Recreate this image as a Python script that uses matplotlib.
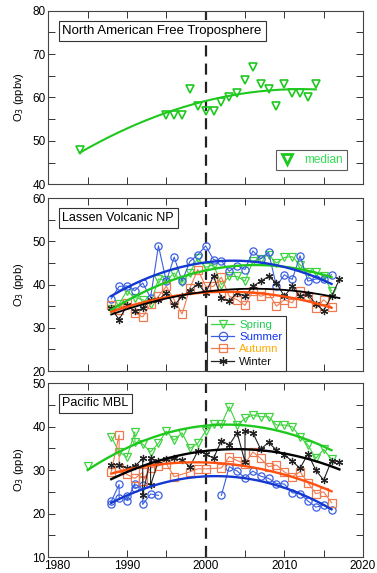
import numpy as np
import matplotlib
matplotlib.use("Agg")
import matplotlib.pyplot as plt
from matplotlib.ticker import MultipleLocator, FixedLocator, FixedFormatter
from matplotlib.lines import Line2D
from matplotlib.transforms import ScaledTranslation

plt.rcParams['font.family'] = ['Liberation Sans', 'DejaVu Sans']

# ---------------- data ----------------
ft_years = [1984, 1995, 1996, 1997, 1998, 1999, 2000, 2001, 2002, 2003, 2004,
            2005, 2006, 2007, 2008, 2009, 2010, 2011, 2012, 2013, 2014]
ft_o3 = [48, 56, 56, 56, 62, 58, 57, 57, 59, 60, 61,
         64, 67, 63, 62, 58, 63, 61, 61, 60, 63]

lv_years = list(range(1988, 2017))
lv_years_winter = list(range(1988, 2018))
lv_spring = [34.3, 35.5, 38.6, 37.0, 36.5, 35.5, 41.3, 41.0, 42.7, 40.5, 42.8, 46.2,
             44.0, 44.6, 40.0, 41.9, 41.9, 40.8, 45.4, 46.0, 46.9, 45.0, 46.3, 46.5,
             44.6, 42.9, 42.9, 42.0, 38.6]
lv_summer = [36.7, 39.6, 39.7, 38.6, 40.4, 37.0, 49.0, 40.8, 46.4, 40.8, 45.4, 46.9,
             49.0, 45.8, 45.5, 43.1, 44.4, 43.5, 47.8, 46.0, 47.5, 39.6, 42.3, 41.2,
             46.7, 40.8, 41.3, 41.3, 42.3]
lv_autumn = [35.2, 34.2, 35.8, 33.5, 32.5, 35.5, 37.3, 39.6, 36.5, 33.2, 39.2, 43.5,
             39.6, 39.6, 41.7, 37.3, 36.5, 35.2, 38.5, 37.3, 38.0, 35.0, 36.5, 35.8,
             38.6, 37.3, 34.5, 36.5, 34.8]
lv_winter = [34.5, 31.9, 35.2, 33.8, 34.5, 36.5, 36.5, 38.1, 35.2, 37.3, 38.6, 40.2,
             38.1, 42.0, 36.8, 36.2, 38.1, 37.3, 39.6, 40.8, 41.9, 40.4, 37.3, 39.6,
             37.3, 37.8, 35.5, 34.0, 37.3, 41.2]

pm_spring_years = [1985, 1986, 1988, 1989, 1990, 1991, 1991, 1992, 1993, 1994, 1995, 1996,
                   1997, 1998, 1999, 2000, 2001, 2002, 2003, 2004, 2005, 2006, 2007,
                   2008, 2009, 2010, 2011, 2012, 2013, 2014, 2015, 2016]
pm_spring = [31.0, np.nan, 37.7, 34.2, 33.0, 38.8, 36.5, 36.0, 34.2, 36.2, 39.0, 36.9,
             38.6, 35.0, 36.2, 39.0, 40.6, 40.6, 44.6, 40.4, 41.9, 42.7, 42.3,
             42.3, 40.4, 40.4, 40.0, 37.7, 35.8, 32.7, 34.8, 32.5]
pm_summer_years = [1988, 1988, 1989, 1989, 1990, 1990, 1991, 1991, 1992, 1992, 1993, 1994,
                   1998, 2002, 2003, 2004, 2005, 2006, 2007, 2008, 2009, 2010, 2011,
                   2012, 2013, 2014, 2015, 2016]
pm_summer = [22.3, 22.8, 26.7, 23.5, 24.0, 23.0, 26.9, 25.8, 26.5, 22.1, 24.5, 24.2,
             np.nan, 24.2, 30.8, 29.8, 28.2, 29.8, 28.6, 28.1, 26.9, 26.8, 24.8,
             24.6, 22.9, 21.5, 21.9, 20.9]
pm_autumn_years = [1988, 1989, 1989, 1990, 1991, 1992, 1992, 1993, 1994, 1995, 1996,
                   1998, 1999, 2000, 2002, 2003, 2004, 2005, 2006, 2007, 2008, 2009,
                   2010, 2011, 2012, 2013, 2014, 2015, 2016]
pm_autumn = [29.6, 38.1, 30.5, 29.0, 28.1, 29.5, 27.5, 30.5, 31.0, 31.5, 28.5,
             29.6, 30.3, 30.3, 30.5, 33.1, 32.2, 31.5, 34.2, 32.7, 30.8, 31.2,
             29.6, 28.5, 29.6, 27.1, 24.6, 25.0, 22.5]
pm_winter_years = [1988, 1989, 1990, 1991, 1992, 1992, 1993, 1993, 1994, 1995, 1996, 1997,
                   1998, 1999, 2000, 2001, 2002, 2003, 2004, 2005, 2005, 2006, 2007,
                   2008, 2009, 2010, 2011, 2012, 2013, 2014, 2015, 2016, 2017]
pm_winter = [31.2, 31.3, 30.4, 30.9, 32.7, 24.2, 32.9, 26.5, 32.2, 32.5, 32.7, 32.3,
             30.8, 34.4, 33.8, 32.7, 36.8, 35.8, 38.6, 31.9, 39.1, 38.6, 34.8,
             36.4, 34.6, 33.5, 32.1, 30.4, 33.8, 30.0, 27.7, 32.2, 31.9]

season_names = ['Spring', 'Summer', 'Autumn', 'Winter']
x_ticks = [1980, 1990, 2000, 2010, 2020]
x_tick_labels = ['1980', '1990', '2000', '2010', '2020']

# ---------------- styles ----------------
C_GREEN_PT = '#3fd33f'
C_GREEN_FIT = '#1ec81e'
C_BLUE_PT = '#3a5fe0'
C_BLUE_FIT = '#1438d0'
C_ORANGE_PT = '#f07a50'
C_ORANGE_FIT = '#ff5010'
C_BLACK = '#000000'
TXT_COL = {'Spring': '#22cc55', 'Summer': '#1133ee', 'Autumn': '#ffaa00', 'Winter': '#111111'}
STAR = (6, 2, 0)
LABEL_FS = 8.5
PAD = 2

W, H = 377, 573
fig = plt.figure(figsize=(W / 100, H / 100), dpi=100)


def ax_rect(top_px, bot_px, left_px=48.3, right_px=363):
    return [left_px / W, 1 - bot_px / H, (right_px - left_px) / W, (bot_px - top_px) / H]


ax1 = fig.add_axes(ax_rect(10.7, 184.3))
ax2 = fig.add_axes(ax_rect(198.3, 371))
ax3 = fig.add_axes(ax_rect(383.3, 557))


def style(ax, ylo, yhi, ylabel, xlabels):
    ax.set_xlim(1980, 2020)
    ax.set_ylim(ylo, yhi)
    ax.xaxis.set_major_locator(FixedLocator(x_ticks))
    ax.xaxis.set_minor_locator(MultipleLocator(5))
    ax.yaxis.set_major_locator(MultipleLocator(10))
    ax.yaxis.set_minor_locator(MultipleLocator(5))
    ax.tick_params(which='both', direction='in', top=True, right=True,
                   length=5, width=0.7, color='#333333', labelsize=LABEL_FS, pad=PAD)
    if not xlabels:
        ax.tick_params(axis='x', labelbottom=False)
    for s in ax.spines.values():
        s.set_linewidth(0.8)
        s.set_color('#444444')
    ax.set_ylabel(ylabel, fontsize=8)
    ax.yaxis.set_label_coords(-0.07, 0.5)
    ax.axvline(2000, color='#222222', lw=1.6, ls=(0, (5, 3.2)), zorder=1)


def title_box(ax, text, x, y, fs=9.2):
    ax.text(x, y, text, transform=ax.transAxes, fontsize=fs, ha='left', va='center',
            bbox=dict(boxstyle='square,pad=0.3', fc='white', ec='#333333', lw=0.8), zorder=6)


def fit_line(ax, x, y, color, lw=1.8):
    x = np.asarray(x, float)
    y = np.asarray(y, float)
    m = ~np.isnan(y)
    c = np.polyfit(x[m], y[m], 2)
    xx = np.linspace(x[m].min(), x[m].max(), 200)
    ax.plot(xx, np.polyval(c, xx), color=color, lw=lw, zorder=4)


# ---- top panel ----
style(ax1, 40, 80, 'O$_3$ (ppbv)', False)
ax1.plot(ft_years, ft_o3, ls='none', marker='v', ms=6, mfc='none', mec=C_GREEN_FIT, mew=1.2, zorder=3)
fit_line(ax1, ft_years, ft_o3, C_GREEN_FIT, lw=1.5)
title_box(ax1, 'North American Free Troposphere', 0.045, 0.885, fs=9.5)
h = Line2D([], [], ls='none', marker='v', ms=6.5, mfc='none', mec=C_GREEN_FIT, mew=2)
leg1 = ax1.legend([h], ['median'], loc='lower right', bbox_to_anchor=(0.95, 0.08), fontsize=8.5,
                  frameon=True, fancybox=False, edgecolor='#333333', handlelength=1.2,
                  handletextpad=0.9, borderpad=0.35, borderaxespad=0)
leg1.get_frame().set_linewidth(0.8)
for t in leg1.get_texts():
    t.set_color('#33dd55')

# ---- middle panel ----
style(ax2, 20, 60, 'O$_3$ (ppb)', False)
series_mid = [
    (lv_years, lv_spring, 'v', C_GREEN_PT, C_GREEN_FIT),
    (lv_years, lv_summer, 'o', C_BLUE_PT, C_BLUE_FIT),
    (lv_years, lv_autumn, 's', C_ORANGE_PT, C_ORANGE_FIT),
    (lv_years_winter, lv_winter, STAR, '#222222', C_BLACK),
]
handles = []
for x, y, mk, cp, cf in series_mid:
    ax2.plot(x, y, color=cp, lw=0.8, marker=mk, ms=5.2, mfc='none', mec=cp, mew=0.9, zorder=3)
for x, y, mk, cp, cf in series_mid:
    fit_line(ax2, x, y, cf, lw=1.7 if cf != C_BLACK else 1.3)
for x, y, mk, cp, cf in series_mid:
    handles.append(Line2D([], [], color=cp, lw=0.9, marker=mk, ms=6, mfc='none', mec=cp, mew=0.9))
title_box(ax2, 'Lassen Volcanic NP', 0.045, 0.885, fs=9.0)
leg2 = ax2.legend(handles, season_names, loc='upper left', bbox_to_anchor=(0.505, 0.32),
                  fontsize=8.2, frameon=True, fancybox=False, edgecolor='#333333',
                  handlelength=2.0, handletextpad=0.45, borderpad=0.35, labelspacing=0.2,
                  borderaxespad=0, framealpha=1)
leg2.get_frame().set_linewidth(0.8)
leg2.set_zorder(10)
for t, n in zip(leg2.get_texts(), season_names):
    t.set_color(TXT_COL[n])

# ---- bottom panel ----
style(ax3, 10, 50, 'O$_3$ (ppb)', True)
series_bot = [
    (pm_spring_years, pm_spring, 'v', C_GREEN_PT, C_GREEN_FIT),
    (pm_summer_years, pm_summer, 'o', C_BLUE_PT, C_BLUE_FIT),
    (pm_autumn_years, pm_autumn, 's', C_ORANGE_PT, C_ORANGE_FIT),
    (pm_winter_years, pm_winter, STAR, '#222222', C_BLACK),
]
for x, y, mk, cp, cf in series_bot:
    ax3.plot(x, y, color=cp, lw=0.8, marker=mk, ms=5.2, mfc='none', mec=cp, mew=0.9, zorder=3)
for x, y, mk, cp, cf in series_bot:
    fit_line(ax3, x, y, cf, lw=1.7)
title_box(ax3, 'Pacific MBL', 0.045, 0.885, fs=9.0)

# x tick labels: the first one is nudged right so it clears the "10" y label
ax3.xaxis.set_major_formatter(FixedFormatter([''] + x_tick_labels[1:]))
tr, va, ha = ax3.get_xaxis_text1_transform(PAD)
ax3.text(x_ticks[0], 0, x_tick_labels[0], fontsize=LABEL_FS, va=va, ha=ha,
         transform=tr + ScaledTranslation(9 / 100, 0, fig.dpi_scale_trans))

fig.savefig('out.png', dpi=100)
